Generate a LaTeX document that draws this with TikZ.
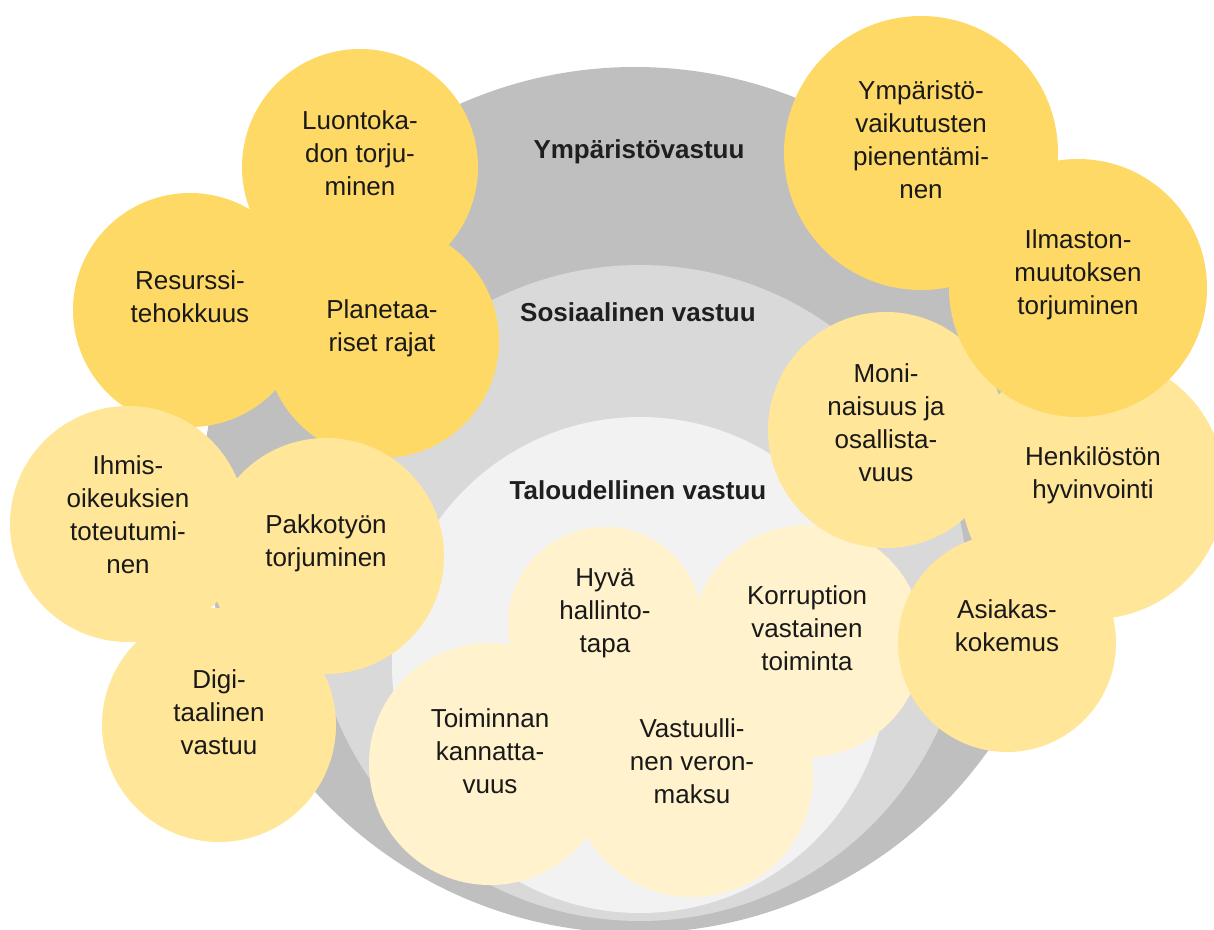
\documentclass[tikz,border=0pt]{standalone}
\usepackage{fontspec}
\setmainfont{Liberation Sans}
\definecolor{ringout}{HTML}{BFBFBF}
\definecolor{ringmid}{HTML}{D9D9D9}
\definecolor{ringin}{HTML}{F2F2F2}
\definecolor{gold}{HTML}{FFD966}
\definecolor{honey}{HTML}{FFE699}
\definecolor{cream}{HTML}{FFF2CC}
\begin{document}
\begin{tikzpicture}[x=1pt,y=-1pt,
    bub/.style={circle,inner sep=0pt,minimum size=#1},
    txt/.style={align=center,inner sep=0pt,text=black!90,
                font=\fontsize{26}{33}\selectfont},
    ring/.style={inner sep=0pt,text=black!88,
                 font=\bfseries\fontsize{26}{31}\selectfont}]
  \useasboundingbox (0,0) rectangle (1214,929);
  %-------------------------------------------------- the three rings
  \node[bub=866pt,fill=ringout] (outer) at (635,500) {};
  \node[bub=656pt,fill=ringmid] (middle) at (640,593) {};
  \node[bub=496pt,fill=ringin]  (inner) at (640,665) {};
  \node[ring] (ymp)  at (639,152) {Ympäristövastuu};
  \node[ring] (sos)  at (638,312) {Sosiaalinen vastuu};
  \node[ring] (talo) at (638,490) {Taloudellinen vastuu};
  %-------------------------------------------------- economic bubbles
  \node[bub=194pt,fill=cream] (hyva) at (605,624) {};
  \node[txt] (hyva-t) at (605,613) {Hyvä\\hallinto-\\tapa};
  \node[bub=232pt,fill=cream] (korr) at (807,641) {};
  \node[txt] (korr-t) at (807,628) {Korruption\\vastainen\\toiminta};
  \node[bub=242pt,fill=cream] (toim) at (490,764) {};
  \node[txt] (toim-t) at (490,751) {Toiminnan\\kannatta-\\vuus};
  \node[bub=242pt,fill=cream] (vero) at (692,776) {};
  \node[txt] (vero-t) at (692,761) {Vastuulli-\\nen veron-\\maksu};
  %-------------------------------------------------- left group
  \node[bub=236pt,fill=gold] (luonto) at (360,167) {};
  \node[txt] (luonto-t) at (360,153) {Luontoka-\\don torju-\\minen};
  \node[bub=234pt,fill=gold] (resu) at (190,310) {};
  \node[txt] (resu-t) at (190,297) {Resurssi-\\tehokkuus};
  \node[bub=234pt,fill=gold] (plan) at (382,341) {};
  \node[txt] (plan-t) at (382,328) {Planetaa-\\riset rajat};
  \node[bub=236pt,fill=honey] (ihmis) at (128,524) {};
  \node[txt] (ihmis-t) at (128,515) {Ihmis-\\oikeuksien\\toteutumi-\\nen};
  \node[bub=236pt,fill=honey] (pakko) at (326,556) {};
  \node[txt] (pakko-t) at (326,543) {Pakkotyön\\torjuminen};
  \node[bub=234pt,fill=honey] (digi) at (219,725) {};
  \node[txt] (digi-t) at (219,712) {Digi-\\taalinen\\vastuu};
  %-------------------------------------------------- right group
  \node[bub=236pt,fill=honey] (moni) at (886,430) {};
  \node[txt] (moni-t) at (886,423) {Moni-\\naisuus ja\\osallista-\\vuus};
  \node[bub=264pt,fill=honey] (henk) at (1093,487) {};
  \node[txt] (henk-t) at (1093,475) {Henkilöstön\\hyvinvointi};
  \node[bub=218pt,fill=honey] (asia) at (1007,643) {};
  \node[txt] (asia-t) at (1007,626) {Asiakas-\\kokemus};
  \node[bub=274pt,fill=gold] (ympv) at (921,153) {};
  \node[txt] (ympv-t) at (921,140) {Ympäristö-\\vaikutusten\\pienentämi-\\nen};
  \node[bub=258pt,fill=gold] (ilma) at (1078,288) {};
  \node[txt] (ilma-t) at (1078,275) {Ilmaston-\\muutoksen\\torjuminen};
\end{tikzpicture}
\end{document}
